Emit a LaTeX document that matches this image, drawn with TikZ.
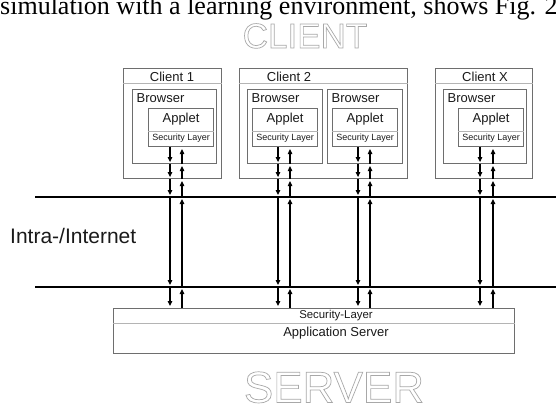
\documentclass[tikz,border=0pt]{standalone}
\usepackage{fontspec}
\setmainfont{Liberation Sans}
\newfontfamily\serifx{Liberation Serif}
\usetikzlibrary{arrows.meta}
\definecolor{boxgray}{HTML}{6E6E6E}
\definecolor{sepgray}{HTML}{B4B4B4}
\definecolor{txt}{HTML}{1A1A1A}
\definecolor{outl}{HTML}{A8A8A8}
\newcommand\outlinetxt[1]{\special{pdf:literal direct 1 Tr 0.7 w}#1\special{pdf:literal direct 0 Tr}}
\tikzset{
  box/.style={draw=boxgray, line width=1.1pt, inner sep=0pt, anchor=north west, fill=white},
  sepline/.style={draw=sepgray, line width=1pt},
  lbl/.style={inner sep=0pt, text=txt, font=\fontsize{13}{15}\selectfont},
  small/.style={inner sep=0pt, text=txt, font=\fontsize{9}{11}\selectfont},
  dn/.style={-{Triangle[length=5pt,width=4.5pt]}, line width=1.1pt, shorten >=2pt},
  upa/.style={-{Triangle[length=5pt,width=4.5pt]}, line width=1.1pt, shorten >=2pt},
  net/.style={line width=2pt, draw=black},
  ghost/.style={inner sep=0pt, anchor=base, text=outl}
}
\begin{document}
\begin{tikzpicture}[x=1pt,y=-1pt]
\useasboundingbox[fill=white] (0,0) rectangle (556,408);

% caption fragment at top
\node[anchor=base west, inner sep=0pt, font=\serifx\fontsize{26}{30}\selectfont] (cap) at (0,14) {simulation with a learning environment, shows Fig. 2};

% ghost titles
\node[ghost, font=\fontsize{35}{40}\selectfont] (clientt) at (305,48) {\outlinetxt{CLIENT}};
\node[ghost, font=\fontsize{44}{50}\selectfont] (servert) at (334,402.5) {\outlinetxt{SERVER}};

% client boxes
\node[box, minimum width=98pt, minimum height=110pt] (cl1) at (123,68) {};
\node[box, minimum width=168pt, minimum height=110pt] (cl2) at (239,68) {};
\node[box, minimum width=97pt, minimum height=110pt] (cl4) at (435,68) {};
\foreach \c in {cl1,cl2,cl4}{
  \draw[sepline] ([yshift=-15.5pt]\c.north west) -- ([yshift=-15.5pt]\c.north east);
}
\node[lbl, anchor=base] (t1) at (172,81.5) {Client 1};
\node[lbl, anchor=base] (t2) at (289,81.5) {Client 2};
\node[lbl, anchor=base] (t4) at (485,81.5) {Client X};

% browsers
\node[box, minimum width=84pt, minimum height=74pt] (br1) at (132,89) {};
\node[box, minimum width=75pt, minimum height=74pt] (br2) at (247,89) {};
\node[box, minimum width=75pt, minimum height=74pt] (br3) at (327,89) {};
\node[box, minimum width=83pt, minimum height=74pt] (br4) at (443,89) {};
\foreach \b in {br1,br2,br3,br4}{
  \node[lbl, anchor=base west] (\b l) at ([xshift=4.5pt,yshift=-13.5pt]\b.north west) {Browser};
}

% applets
\node[box, minimum width=65pt, minimum height=38pt] (ap1) at (148,108) {};
\node[box, minimum width=65pt, minimum height=38pt] (ap2) at (252,108) {};
\node[box, minimum width=65pt, minimum height=38pt] (ap3) at (332,108) {};
\node[box, minimum width=65pt, minimum height=38pt] (ap4) at (458,108) {};
\foreach \a in {ap1,ap2,ap3,ap4}{
  \draw[sepline] ([yshift=-23pt]\a.north west) -- ([yshift=-23pt]\a.north east);
  \node[lbl, anchor=base] (\a l) at ([yshift=-14.5pt]\a.north) {Applet};
  \node[small, anchor=base] (\a s) at ([yshift=-32.5pt]\a.north) {Security Layer};
}

% network lines
\coordinate (netAw) at (35,197);
\coordinate (netAe) at (556,197);
\coordinate (netBw) at (35,287);
\coordinate (netBe) at (556,287);
\draw[net] (netAw) -- (netAe);
\draw[net] (netBw) -- (netBe);
\node[inner sep=0pt, anchor=base west, text=txt, font=\fontsize{21}{24}\selectfont] (inet) at (10,243) {Intra-/Internet};

% server
\node[box, minimum width=401pt, minimum height=45pt] (srv) at (113,308) {};
\draw[sepline] ([yshift=-15pt]srv.north west) -- ([yshift=-15pt]srv.north east);
\node[inner sep=0pt, anchor=base, text=txt, font=\fontsize{11.4}{13}\selectfont] (srvsec) at (336,318) {Security-Layer};
\node[lbl, anchor=base] (srvapp) at (336,336) {Application Server};

% arrows
\foreach \d/\u/\ap/\br/\cl in {170/182/ap1/br1/cl1, 278/290/ap2/br2/cl2, 358/370/ap3/br3/cl2, 480/493/ap4/br4/cl4}{
  \coordinate (dx) at (\d,0);
  \coordinate (ux) at (\u,0);
  \draw[dn] (dx |- \ap.south) -- (dx |- \br.south);
  \draw[dn] (dx |- \br.south) -- (dx |- \cl.south);
  \draw[dn] (dx |- \cl.south) -- (dx |- netAw);
  \draw[dn] (dx |- netAw) -- (dx |- netBw);
  \draw[dn] (dx |- netBw) -- (dx |- srv.north);
  \draw[upa] (ux |- srv.north) -- (ux |- netBw);
  \draw[upa] (ux |- netBw) -- (ux |- netAw);
  \draw[upa] (ux |- netAw) -- (ux |- \cl.south);
  \draw[upa] (ux |- \cl.south) -- (ux |- \br.south);
  \draw[upa] (ux |- \br.south) -- (ux |- \ap.south);
}
\end{tikzpicture}
\end{document}
